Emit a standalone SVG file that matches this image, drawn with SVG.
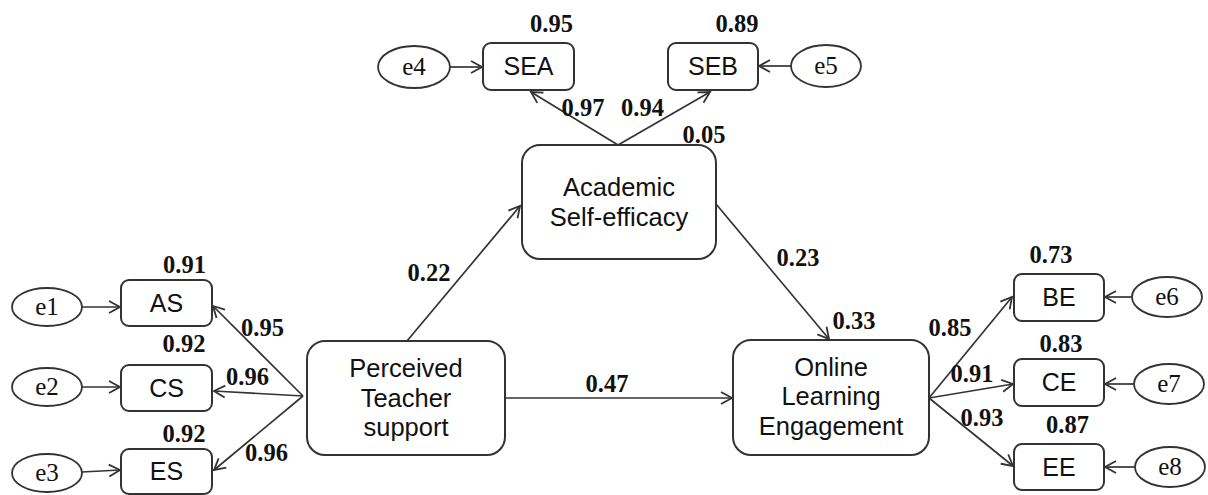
<svg xmlns="http://www.w3.org/2000/svg" width="1208" height="495" viewBox="0 0 1208 495">
<style>
.box{fill:#fff;stroke:#333;stroke-width:2}
.ell{fill:#fff;stroke:#333;stroke-width:1.8}
.big{font-family:"Liberation Sans",Arial,sans-serif;font-size:25.5px;fill:#111;text-anchor:middle}
.sm{font-family:"Liberation Sans",Arial,sans-serif;font-size:25px;fill:#111;text-anchor:middle}
.e{font-family:"Liberation Serif","Times New Roman",serif;font-size:25px;fill:#111;text-anchor:middle}
.n{font-family:"Liberation Serif","Times New Roman",serif;font-size:24.5px;font-weight:bold;fill:#111;text-anchor:middle}
.c line{stroke:#333;stroke-width:1.7;marker-end:url(#ah)}
</style>
<defs>
<marker id="ah" viewBox="-13 -8 15 16" refX="0" refY="0" markerWidth="15" markerHeight="16" markerUnits="userSpaceOnUse" orient="auto">
<path d="M-11,-6 L0,0 L-11,6" fill="none" stroke="#333" stroke-width="1.8"/>
</marker>
</defs>
<rect width="1208" height="495" fill="#fff"/>
<g class="c" id="connectors">
<line x1="82" y1="307" x2="120" y2="307"/>
<line x1="82" y1="387" x2="120" y2="387"/>
<line x1="82" y1="472" x2="120" y2="470"/>
<line x1="450" y1="67" x2="482" y2="67"/>
<line x1="791" y1="66" x2="759" y2="66"/>
<line x1="1132" y1="297" x2="1105" y2="297"/>
<line x1="1134" y1="384" x2="1105" y2="384"/>
<line x1="1135" y1="467" x2="1105" y2="467"/>
<line x1="303" y1="396" x2="213" y2="306"/>
<line x1="303" y1="396" x2="214" y2="391"/>
<line x1="303" y1="396" x2="214" y2="470"/>
<line x1="618" y1="145" x2="531" y2="92"/>
<line x1="618" y1="145" x2="710" y2="92"/>
<line x1="407" y1="341" x2="520" y2="206"/>
<line x1="505" y1="398" x2="732" y2="398"/>
<line x1="716" y1="204" x2="829" y2="339"/>
<line x1="929" y1="398" x2="1012" y2="297"/>
<line x1="929" y1="398" x2="1013" y2="384"/>
<line x1="929" y1="398" x2="1013" y2="466"/>
</g>
<g id="PTS"><rect class="box" x="307" y="341" width="198" height="114" rx="18"/><text class="big" x="406" y="377">Perceived</text><text class="big" x="406" y="407">Teacher</text><text class="big" x="406" y="436">support</text></g>
<g id="ASE"><rect class="box" x="522" y="145" width="194" height="114" rx="18"/><text class="big" x="619" y="196">Academic</text><text class="big" x="619" y="226">Self-efficacy</text></g>
<g id="OLE"><rect class="box" x="733" y="340" width="196" height="115" rx="18"/><text class="big" x="831" y="376">Online</text><text class="big" x="831" y="405">Learning</text><text class="big" x="831" y="435">Engagement</text></g>
<g id="AS"><rect class="box" x="121" y="280" width="91" height="46" rx="8"/><text class="sm" x="166.5" y="312">AS</text></g>
<g id="CS"><rect class="box" x="121" y="365" width="91" height="46" rx="8"/><text class="sm" x="166.5" y="397">CS</text></g>
<g id="ES"><rect class="box" x="121" y="449" width="91" height="45" rx="8"/><text class="sm" x="166.5" y="480">ES</text></g>
<g id="SEA"><rect class="box" x="483" y="43" width="91" height="47" rx="8"/><text class="sm" x="528.5" y="75">SEA</text></g>
<g id="SEB"><rect class="box" x="668" y="43" width="90" height="47" rx="8"/><text class="sm" x="713" y="75">SEB</text></g>
<g id="BE"><rect class="box" x="1014" y="274" width="90" height="47" rx="8"/><text class="sm" x="1059" y="306">BE</text></g>
<g id="CE"><rect class="box" x="1014" y="359" width="90" height="47" rx="8"/><text class="sm" x="1059" y="391">CE</text></g>
<g id="EE"><rect class="box" x="1014" y="444" width="90" height="46" rx="8"/><text class="sm" x="1059" y="476">EE</text></g>
<g id="e1"><ellipse class="ell" cx="47" cy="307" rx="35" ry="19"/><text class="e" x="47" y="315">e1</text></g>
<g id="e2"><ellipse class="ell" cx="47" cy="387" rx="35" ry="19"/><text class="e" x="47" y="395">e2</text></g>
<g id="e3"><ellipse class="ell" cx="47" cy="473" rx="35" ry="19"/><text class="e" x="47" y="481">e3</text></g>
<g id="e4"><ellipse class="ell" cx="414" cy="67" rx="36" ry="21"/><text class="e" x="414" y="75">e4</text></g>
<g id="e5"><ellipse class="ell" cx="826" cy="66" rx="35" ry="21"/><text class="e" x="826" y="74">e5</text></g>
<g id="e6"><ellipse class="ell" cx="1167" cy="297" rx="35" ry="20"/><text class="e" x="1167" y="305">e6</text></g>
<g id="e7"><ellipse class="ell" cx="1169" cy="384" rx="35" ry="20"/><text class="e" x="1169" y="392">e7</text></g>
<g id="e8"><ellipse class="ell" cx="1170" cy="467" rx="35" ry="20"/><text class="e" x="1170" y="475">e8</text></g>
<g id="labels">
<text class="n" x="551.5" y="32">0.95</text>
<text class="n" x="737" y="32">0.89</text>
<text class="n" x="583" y="116">0.97</text>
<text class="n" x="642.5" y="116">0.94</text>
<text class="n" x="704" y="143">0.05</text>
<text class="n" x="429" y="281">0.22</text>
<text class="n" x="607" y="392">0.47</text>
<text class="n" x="798" y="266">0.23</text>
<text class="n" x="854" y="329">0.33</text>
<text class="n" x="184.5" y="273">0.91</text>
<text class="n" x="262.5" y="336">0.95</text>
<text class="n" x="184" y="352">0.92</text>
<text class="n" x="247.5" y="385">0.96</text>
<text class="n" x="184" y="442">0.92</text>
<text class="n" x="266.5" y="461">0.96</text>
<text class="n" x="1051" y="263">0.73</text>
<text class="n" x="950" y="336">0.85</text>
<text class="n" x="1061" y="352">0.83</text>
<text class="n" x="972" y="382">0.91</text>
<text class="n" x="982" y="426">0.93</text>
<text class="n" x="1067.5" y="433">0.87</text>
</g>
</svg>
